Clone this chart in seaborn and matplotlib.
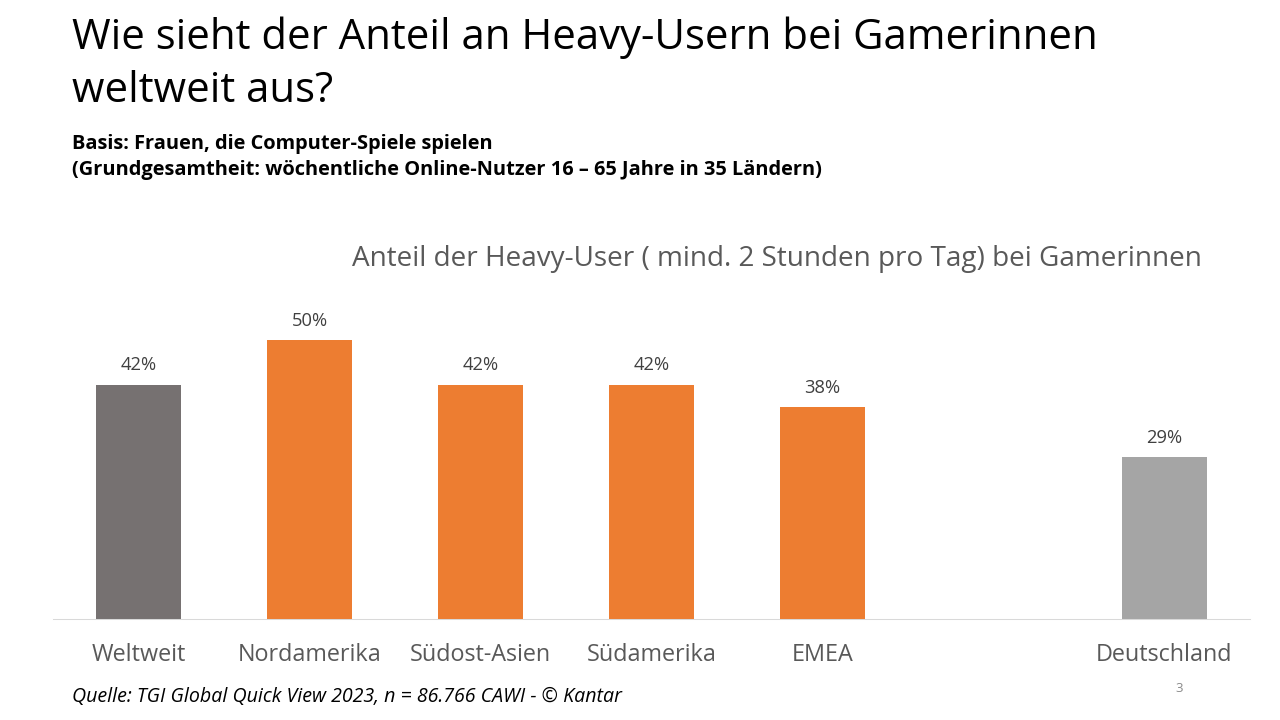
import matplotlib
matplotlib.use("Agg")
import matplotlib.pyplot as plt
import seaborn as sns
import pandas as pd

categories = ["Weltweit", "Nordamerika", "Südost-Asien", "Südamerika", "EMEA", "", "Deutschland"]
values = [42, 50, 42, 42, 38, None, 29]
labels = ["42%", "50%", "42%", "42%", "38%", "", "29%"]
colors = ["#767171", "#ED7D31", "#ED7D31", "#ED7D31", "#ED7D31", "#ED7D31", "#A5A5A5"]
title = "Wie sieht der Anteil an Heavy-Usern bei Gamerinnen\nweltweit aus?"
subtitle = "Basis: Frauen, die Computer-Spiele spielen\n(Grundgesamtheit: wöchentliche Online-Nutzer 16 – 65 Jahre in 35 Ländern)"
chart_title = "Anteil der Heavy-User ( mind. 2 Stunden pro Tag) bei Gamerinnen"
source = "Quelle: TGI Global Quick View 2023, n = 86.766 CAWI - © Kantar"
page = "3"

sns.set_theme(style="white")
plt.rcParams["font.family"] = ["Open Sans", "DejaVu Sans"]
W, H = 1280, 720
fig = plt.figure(figsize=(W/100, H/100), dpi=100, facecolor="white")
ax = fig.add_axes([53/W, 1-619/H, 1197/W, 279/H])
df = pd.DataFrame({"cat": [c if c else " " for c in categories], "val": values})
sns.barplot(data=df, x="cat", y="val", hue="cat", palette=[c for c in colors], legend=False,
            width=0.5, saturation=1, ax=ax, order=df["cat"], hue_order=df["cat"], linewidth=0)
ax.set_xlim(-0.5, 6.5)
ax.set_ylim(0, 50)
ax.set_xlabel(""); ax.set_ylabel("")
ax.set_yticks([])
ax.patch.set_alpha(0)
for s in ["top", "left", "right"]:
    ax.spines[s].set_visible(False)
ax.spines["bottom"].set_color("#D9D9D9")
ax.spines["bottom"].set_linewidth(0.75)
ax.tick_params(axis="x", length=0, pad=17, labelsize=16.8, labelcolor="#595959")
for i, (v, l) in enumerate(zip(values, labels)):
    if v is not None:
        ax.annotate(l, (i, v), xytext=(0, 7.5), textcoords="offset points", ha="center", va="bottom",
                    fontsize=13.2, color="#404040", annotation_clip=False)

def px(x, y, s, **k):
    fig.text(x/W, 1-y/H, s, **k)
px(72, 38, title.split("\n")[0], fontsize=30.2, color="black", va="center", ha="left")
px(72, 91, title.split("\n")[1], fontsize=30.2, color="black", va="center", ha="left")
px(72, 144, subtitle.split("\n")[0], fontsize=14.45, fontweight="bold", color="black", va="center")
px(72, 170, subtitle.split("\n")[1], fontsize=14.45, fontweight="bold", color="black", va="center")
px(777, 259, chart_title, fontsize=20.1, color="#595959", va="center", ha="center")
px(72, 697, source, fontsize=14.15, style="italic", color="black", va="center")
px(1179, 688, page, fontsize=9.5, color="#898989", va="center", ha="center")
fig.savefig("out.png", dpi=100)
